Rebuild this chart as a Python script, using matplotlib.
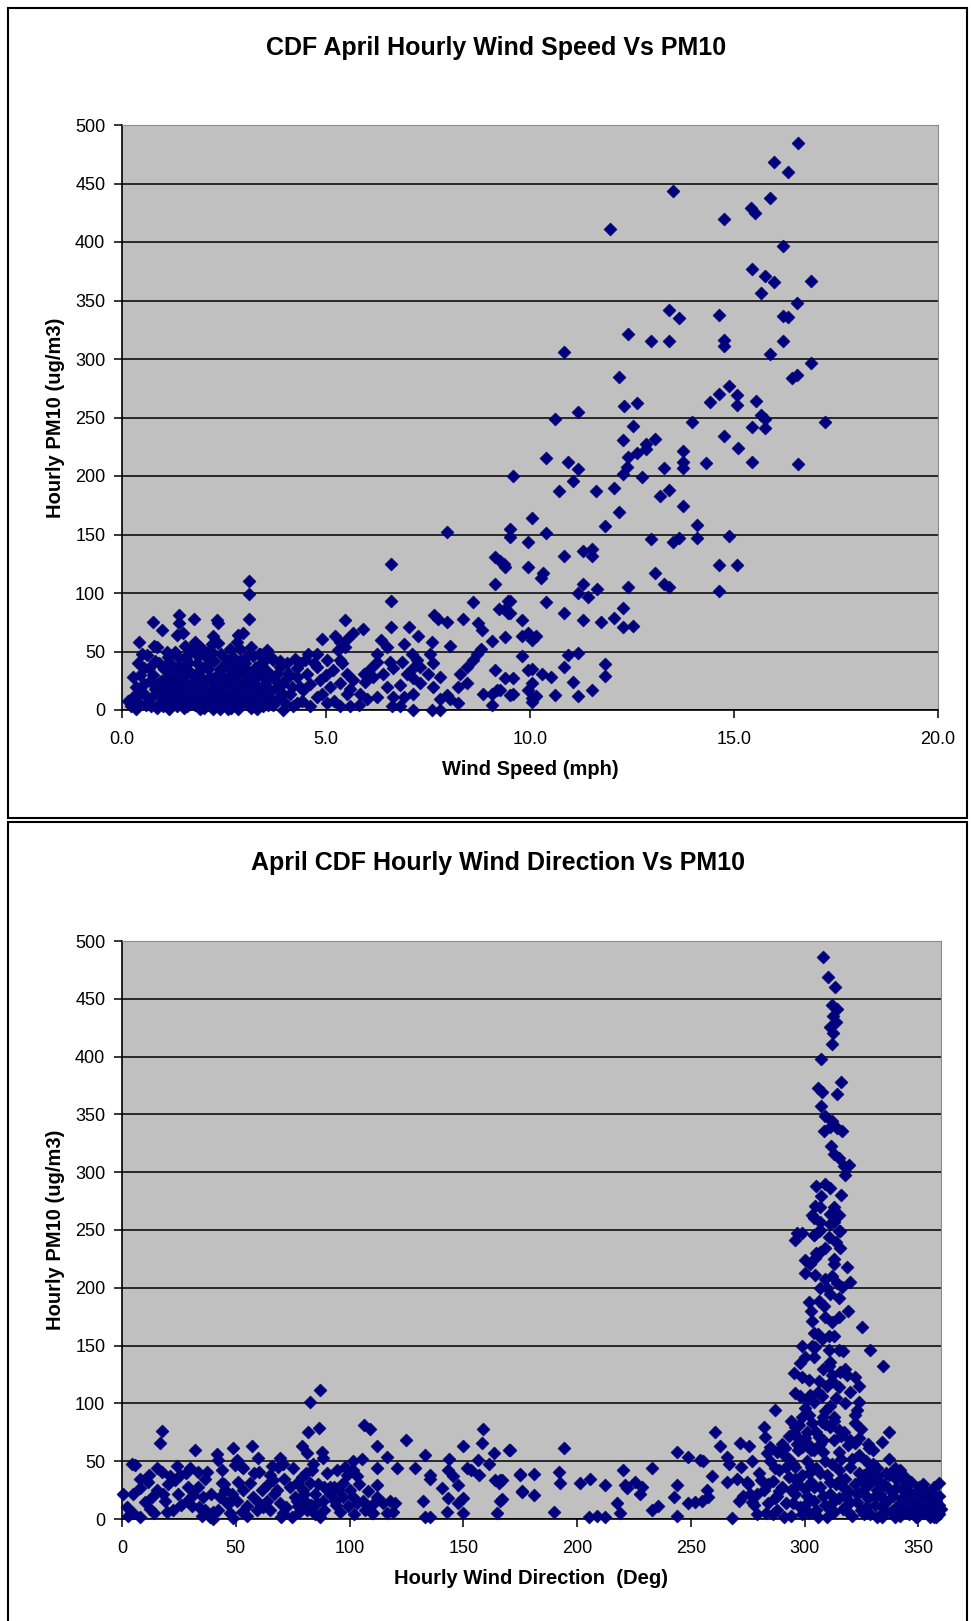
import matplotlib
matplotlib.use("Agg")
import matplotlib.pyplot as plt
from matplotlib.patches import Rectangle

# ---------------- data: chart 1 (wind speed vs PM10) ----------------
speed_high = [16.56, 15.98, 16.33, 13.51, 15.88, 15.41, 15.51, 14.75, 11.96, 16.21,
              15.43, 15.77, 15.99, 16.88, 15.65, 16.55, 13.41, 13.64, 14.63, 16.21,
              16.32, 12.41, 12.97, 13.41, 14.75, 14.75, 16.21, 10.83, 15.88, 16.88,
              12.18, 16.41, 16.54, 14.87, 14.64, 15.08, 15.08, 14.41, 15.54, 12.30,
              12.62, 11.17, 10.61, 15.65, 15.76, 12.52, 13.96, 15.43, 15.76, 17.23,
              12.29, 13.06, 12.84, 12.84, 12.62, 14.75, 15.09, 13.74, 13.74, 13.74,
              14.31, 15.43, 16.56, 10.38, 10.94, 11.17, 11.06, 12.39, 12.37, 12.29,
              13.29, 12.74, 9.59, 10.71, 11.62, 12.07, 13.19, 13.41, 12.18, 13.74,
              10.06, 11.84, 14.10, 9.51, 9.51, 10.38, 9.96, 12.97, 13.50, 13.64,
              14.10, 14.87, 11.29, 11.51, 11.51, 10.84, 9.36, 9.96, 10.33, 10.26,
              14.64, 15.08, 13.06, 13.28, 13.41, 12.41, 14.64, 11.29, 11.17, 11.41,
              11.63, 9.51, 9.39, 9.51, 10.38, 9.81, 10.84, 11.29, 11.73, 12.07,
              12.29, 12.29, 12.52, 9.81, 9.96, 10.04, 10.15, 9.39, 9.81, 10.94,
              11.17, 11.84, 11.84, 10.84, 10.06, 10.29, 10.51, 11.06, 11.51, 11.17,
              10.61, 10.04, 9.96, 10.06, 10.15, 10.04, 9.59, 9.39, 9.59, 9.51, 9.26]
pm10_high = [485, 468, 460, 444, 438, 429, 425, 420, 411, 397,
             377, 371, 366, 367, 356, 348, 342, 335, 338, 337,
             336, 321, 315, 315, 316, 311, 315, 306, 304, 297,
             285, 284, 286, 277, 270, 269, 261, 263, 264, 260,
             262, 255, 249, 252, 249, 243, 246, 242, 241, 246,
             231, 232, 227, 223, 220, 234, 224, 221, 212, 207,
             211, 212, 210, 215, 212, 206, 196, 216, 208, 202,
             207, 199, 200, 187, 187, 190, 183, 188, 169, 174,
             164, 157, 158, 155, 148, 151, 144, 146, 144, 147,
             147, 149, 136, 138, 132, 132, 125, 122, 117, 113,
             124, 124, 117, 108, 105, 105, 102, 108, 100, 97,
             103, 93, 86, 83, 92, 77, 83, 77, 75, 79,
             87, 71, 72, 63, 66, 60, 63, 62, 46, 47,
             49, 39, 29, 37, 35, 31, 28, 24, 17, 12,
             13, 23, 17, 10, 12, 7, 27, 27, 14, 13, 17]

speed_mid = [7.96, 6.59, 3.12, 3.12, 3.12, 6.59, 9.14, 9.26, 9.39, 9.14,
             8.60, 9.47, 9.24, 9.47, 8.35, 8.72, 8.82, 7.65, 7.96, 7.75,
             9.06, 8.04, 8.80, 8.61, 8.69, 7.04, 7.26, 6.92, 6.59, 6.36,
             6.49, 6.24, 7.59, 7.55, 7.63, 7.10, 7.22, 7.14, 7.14, 5.47,
             5.91, 5.67, 5.51, 4.89, 5.22, 5.34, 5.30, 5.47, 4.77, 0.77,
             0.97, 1.40, 1.40, 1.77, 2.32, 2.36, 0.42, 0.87, 1.34, 1.50,
             1.79, 1.91, 2.24, 2.36, 2.20, 2.85, 2.97, 2.81,
             8.86, 9.06, 9.18, 9.06, 9.14, 9.96, 8.04, 8.24, 7.96, 8.24,
             8.45, 8.28, 8.45, 7.59, 7.79, 7.79, 7.63, 7.79, 7.51,
             6.61, 6.81, 7.14, 6.65, 6.90, 7.14, 6.49, 6.81, 7.30, 6.40,
             6.65, 6.98, 6.24, 6.57, 6.86, 7.30, 6.16, 6.24,
             5.34, 5.18, 5.51, 5.67, 5.34, 5.10, 5.51, 5.83, 5.92, 6.00,
             5.34, 5.59, 5.02, 4.77, 4.85, 4.77, 5.02, 4.57, 4.53, 4.44,
             4.61, 4.28, 3.71, 3.87, 4.04, 4.24, 4.36, 3.79, 4.04, 4.28,
             4.49, 3.79, 3.95, 4.16, 4.36, 3.71, 3.95, 4.20, 3.55, 3.39]
pm10_mid = [152, 125, 110, 99, 78, 93, 131, 127, 122, 108,
            92, 93, 86, 83, 78, 74, 68, 81, 75, 78,
            59, 55, 52, 43, 48, 71, 63, 56, 71, 60,
            54, 48, 58, 48, 40, 48, 43, 36, 27, 77,
            69, 66, 61, 61, 63, 58, 51, 54, 48, 75,
            68, 81, 74, 78, 77, 74, 58, 54, 64, 66,
            58, 54, 63, 57, 50, 64, 66, 58,
            14, 14, 17, 4, 34, 34, 9, 6, 13, 20,
            23, 31, 37, 0, 0, 9, 20, 28, 31,
            3, 3, 0, 11, 11, 14, 20, 21, 23, 31,
            36, 31, 41, 41, 41, 37, 28, 11,
            43, 34, 31, 26, 23, 20, 14, 14, 31, 9,
            3, 3, 6, 11, 26, 37, 43, 48, 31, 17,
            3, 6, 43, 37, 40, 44, 40, 31, 27, 28,
            43, 20, 14, 20, 20, 6, 0, 3, 51, 48]

speed_low = [0.15, 0.22, 0.30, 0.35, 0.42, 0.50, 0.28, 0.48, 0.62, 0.55,
             0.60, 0.70, 0.75, 0.80, 0.85, 0.90, 0.95, 1.00, 1.02, 1.08,
             1.12, 1.15, 1.20, 1.25, 1.28, 1.30, 1.35, 1.40, 1.45, 1.50,
             1.52, 1.58, 1.60, 1.65, 1.70, 1.72, 1.78, 1.80, 1.85, 1.88,
             1.92, 1.98, 2.00, 2.05, 2.10, 2.12, 2.18, 2.22, 2.25, 2.30,
             2.35, 2.38, 2.42, 2.48, 2.50, 2.55, 2.60, 2.65, 2.68, 2.72,
             2.75, 2.80, 2.85, 2.90, 2.92, 2.98, 3.02, 3.05, 3.10, 3.15,
             3.18, 3.22, 3.28, 3.32, 3.38, 3.40, 3.45, 3.50, 3.55, 3.60,
             3.65, 0.65, 0.78, 0.95, 1.05, 1.18, 1.32, 1.42, 1.55, 1.68,
             1.75, 1.90, 2.02, 2.15, 2.28, 2.40, 2.52, 2.62, 2.78, 2.88,
             3.00, 3.12, 3.25, 3.35, 3.48, 1.10, 1.38, 1.62, 1.95, 2.20,
             2.45, 2.70, 2.95, 3.20, 0.88, 1.22, 1.48, 1.82, 2.08, 2.32,
             2.58, 2.82, 3.08, 3.42, 1.00, 1.60, 2.00, 2.40, 2.80, 3.30,
             3.70, 3.60]
pm10_low = [8, 3, 12, 1, 6, 15, 28, 48, 47, 22,
            4, 10, 30, 18, 2, 40, 25, 8, 35, 14,
            45, 1, 22, 30, 5, 50, 12, 38, 18, 27,
            2, 44, 9, 33, 15, 52, 24, 4, 40, 11,
            29, 19, 47, 6, 35, 14, 24, 1, 42, 9,
            31, 18, 48, 4, 26, 13, 38, 21, 2, 45,
            10, 30, 17, 52, 5, 24, 40, 12, 33, 2,
            20, 46, 8, 28, 15, 38, 3, 22, 33, 10,
            45, 36, 55, 12, 20, 40, 25, 6, 36, 22,
            7, 34, 25, 44, 15, 35, 8, 28, 38, 10,
            18, 26, 36, 48, 12, 28, 45, 48, 52, 56,
            20, 16, 34, 10, 22, 12, 32, 17, 9, 27,
            43, 24, 5, 30, 3, 3, 2, 1, 3, 1,
            4, 28]

speed_fill = [0.35, 0.45, 0.58, 0.68, 0.72, 0.82, 0.92, 0.98, 1.06, 1.14,
              1.22, 1.26, 1.34, 1.42, 1.46, 1.56, 1.62, 1.66, 1.74, 1.84,
              1.86, 1.94, 2.04, 2.06, 2.14, 2.16, 2.26, 2.34, 2.44, 2.46,
              2.54, 2.56, 2.64, 2.66, 2.74, 2.84, 2.86, 2.94, 3.04, 3.06,
              3.14, 3.24, 3.26, 3.34, 3.36, 3.44, 3.52, 3.58, 3.66, 3.74,
              3.82, 3.88, 3.92, 4.00, 4.08, 4.12, 4.30, 4.40, 4.60, 4.70,
              4.90, 5.00, 5.20, 5.40, 5.60, 5.80, 5.95, 6.10, 0.40, 1.10,
              1.55, 2.10, 2.65, 3.15, 0.55, 2.90, 1.30, 1.90, 2.60, 3.20]
pm10_fill = [20, 30, 12, 25, 3, 42, 6, 17, 38, 9,
             33, 20, 3, 28, 12, 22, 40, 5, 30, 24,
             46, 8, 16, 38, 4, 28, 20, 6, 12, 30,
             40, 18, 6, 34, 24, 1, 36, 14, 28, 46,
             16, 4, 22, 38, 8, 20, 44, 4, 16, 26,
             10, 42, 22, 6, 32, 14, 36, 8, 22, 40,
             14, 30, 8, 40, 18, 4, 24, 36, 40, 50,
             55, 50, 52, 54, 36, 42, 16, 1, 1, 32]

speed_x = speed_high + speed_mid + speed_low + speed_fill
pm10_a = pm10_high + pm10_mid + pm10_low + pm10_fill

# ---------------- data: chart 2 (wind direction vs PM10) ----------------
dir_peak = [308.0, 310.2, 313.2, 312.1, 314.3, 312.5, 314.0, 311.4, 312.5, 312.1,
            307.2, 316.2, 314.3, 305.8, 307.7, 307.2, 309.1, 312.1, 314.3, 316.4,
            308.4, 311.4, 311.8, 312.8, 315.0, 317.2, 319.4, 317.9, 305.2, 311.4,
            307.2, 304.7, 312.8, 311.4, 315.0, 303.3, 306.9, 312.8, 315.7, 296.7,
            306.2, 304.0, 296.0, 298.9, 304.0, 306.9, 310.6, 315.0, 300.3, 302.6,
            304.7, 306.9, 309.1, 315.7, 312.8, 318.7, 300.3, 304.7, 309.1, 312.1,
            314.3, 316.5, 306.9, 311.4, 301.8, 306.2, 308.4, 315.0, 309.1, 325.2,
            303.3, 304.0, 307.7, 310.6, 312.8, 304.7, 298.9, 303.3, 328.9, 334.5,
            304.0, 310.6, 315.0, 311.4, 310.6, 298.1, 295.2, 298.9, 306.2, 315.7,
            318.7, 322.3, 312.1, 315.0, 296.0, 298.1, 302.6, 307.7, 301.1, 304.0,
            287.2, 323.8, 323.0, 309.1, 312.8, 298.9, 303.3, 307.7, 311.4, 315.0,
            322.3, 297.4, 282.0, 282.8, 260.8, 337.0, 334.1, 295.2, 301.1, 306.2,
            312.8, 317.2, 320.1, 323.8, 296.7, 302.6, 306.9, 271.8, 275.4, 263.0,
            291.6, 328.2, 288.0, 283.5]
pm10_peak = [486, 469, 460, 445, 441, 435, 430, 426, 420, 411,
             398, 378, 368, 373, 369, 357, 349, 344, 338, 336,
             336, 339, 323, 316, 312, 305, 306, 298, 288, 286,
             279, 271, 270, 264, 263, 263, 257, 257, 249, 247,
             249, 246, 241, 247, 246, 250, 244, 249, 224, 221,
             226, 231, 234, 234, 221, 218, 213, 211, 208, 210,
             204, 201, 200, 195, 188, 189, 184, 191, 175, 166,
             171, 161, 156, 158, 158, 149, 150, 150, 146, 132,
             140, 146, 146, 136, 132, 135, 126, 123, 119, 127,
             125, 123, 119, 114, 109, 106, 107, 106, 103, 101,
             94, 101, 94, 93, 88, 88, 83, 84, 80, 77,
             83, 81, 80, 71, 75, 75, 67, 74, 75, 71,
             68, 75, 68, 70, 65, 63, 65, 66, 63, 63,
             61, 61, 58, 57]

dir_low = [87.1, 82.7, 86.8, 81.9, 17.5, 16.7, 158.9, 158.2, 106.4, 109.1,
           124.9, 150.1, 169.9, 32.1, 57.0, 49.0, 112.0, 79.3, 81.2, 41.6,
           42.4, 59.9, 69.5, 70.9, 68.7, 87.8, 88.5, 105.4, 101.7, 116.4,
           133.2, 143.9, 156.7, 163.3, 161.1, 4.3, 5.7, 15.3, 17.5, 21.1,
           25.5, 23.3, 33.6, 37.2, 36.5, 49.7, 52.6, 50.4, 60.4, 65.1,
           66.5, 120.8, 128.8, 112.0, 143.5, 151.6, 153.5, 145.7, 157.1, 94.4,
           98.8, 101.7, 103.2, 97.3, 91.5, 164.0, 167.0, 165.5, 175.0, 176.0,
           167.0, 164.8, 147.9, 150.1, 147.9, 150.1, 143.5, 142.8, 140.6, 132.5,
           133.2, 135.4, 135.4, 135.4, 112.0, 112.0, 114.9, 117.9, 119.3, 116.4,
           120.1, 110.5, 87.1,
           0.6, 2.8, 5.0, 7.9, 5.0, 7.9, 11.6, 13.0, 12.3, 15.3,
           18.9, 19.6, 22.6, 24.8, 28.4, 29.2, 31.4, 30.7, 33.6, 35.8,
           35.1, 36.5, 38.7, 40.1, 42.4, 43.1, 43.8, 45.3, 46.0, 47.5,
           48.9, 48.2, 50.4, 53.3, 54.8, 52.6, 56.3, 57.7, 59.2, 61.4,
           63.6, 65.1, 68.0, 69.5, 70.9, 73.9, 74.6, 76.1, 77.5, 76.8,
           79.7, 80.5, 81.2, 82.7, 83.4, 84.1, 84.9, 85.6, 88.5, 91.5,
           93.7, 95.1, 97.3, 99.5, 101.7, 103.2, 106.1, 106.9, 109.8,
           170.6, 194.1, 232.9, 220.4, 175.0, 180.9, 191.9, 192.6, 201.4, 205.8,
           212.4, 221.2, 221.9, 225.6, 227.8, 228.5, 166.2, 166.2, 175.8, 180.9,
           189.7, 205.1, 208.7, 212.4, 217.5, 219.0, 232.9, 235.8, 243.9, 242.5,
           243.9, 249.0, 252.0, 254.9, 257.8, 257.1, 259.3, 254.2, 243.9, 249.0,
           255.6, 265.9, 266.6, 265.9, 268.1, 270.3, 271.0, 274.7, 276.2, 276.9,
           279.1]
pm10_low_b = [112, 101, 79, 75, 76, 66, 78, 66, 81, 78,
              68, 63, 60, 60, 63, 61, 63, 63, 57, 56,
              51, 53, 53, 48, 45, 58, 53, 52, 50, 54,
              55, 52, 51, 57, 48, 48, 47, 44, 41, 37,
              38, 34, 41, 41, 35, 47, 45, 51, 41, 38,
              34, 44, 44, 44, 42, 44, 42, 37, 38, 42,
              38, 42, 37, 31, 28, 34, 34, 31, 38, 23,
              17, 5, 29, 18, 14, 5, 18, 6, 27, 16,
              2, 2, 35, 38, 29, 19, 14, 16, 6, 5,
              14, 5, 2,
              22, 3, 5, 2, 22, 27, 32, 19, 9, 25,
              16, 6, 8, 22, 16, 28, 21, 11, 28, 19,
              3, 8, 2, 0, 8, 19, 31, 25, 14, 5,
              1, 22, 16, 25, 11, 6, 31, 19, 8, 25,
              16, 8, 25, 14, 5, 28, 2, 19, 11, 31,
              25, 16, 8, 31, 42, 48, 22, 14, 16, 22,
              16, 25, 19, 11, 19, 14, 16, 8, 5,
              60, 61, 44, 42, 39, 39, 41, 31, 31, 35,
              29, 29, 27, 32, 22, 28, 34, 16, 24, 21,
              6, 2, 3, 2, 14, 5, 8, 11, 29, 19,
              3, 14, 15, 16, 19, 25, 37, 51, 58, 54,
              50, 54, 48, 32, 1, 35, 16, 32, 22, 15,
              22]

dir_dense = [272, 275, 278, 280, 282, 283, 285, 286, 287, 288,
             289, 290, 291, 292, 293, 294, 295, 296, 297, 298,
             299, 300, 301, 302, 303, 304, 305, 306, 307, 308,
             309, 310, 311, 312, 313, 314, 315, 316, 317, 318,
             319, 320, 321, 322, 323, 324, 325, 326, 327, 328,
             329, 330, 331, 332, 333, 334, 335, 336, 337, 338,
             339, 340, 341, 342, 343, 344, 345, 346, 347, 348,
             349, 350, 351, 352, 353, 354, 355, 356, 357, 358,
             359, 360, 284, 288, 292, 296, 300, 304, 308, 312,
             316, 320, 324, 328, 332, 336, 340, 344, 348, 352,
             356, 359, 286, 294, 302, 310, 318, 326, 334, 342,
             350, 358, 339.9, 342.1, 344.3, 350.2, 359.0, 356.8, 353.1, 359.7,
             356.8, 331.9, 328.9, 327.4, 331.9, 339.9,
             290, 293, 296, 299, 302, 305, 308, 311, 313, 316,
             319, 322, 325, 328, 300, 306, 310, 314, 318, 297,
             303, 309, 320, 324, 330, 312, 294]
pm10_dense = [45, 30, 12, 40, 25, 5, 50, 33, 18, 8,
              42, 28, 55, 14, 36, 3, 48, 22, 60, 10,
              38, 26, 50, 5, 32, 16, 44, 2, 28, 58,
              12, 38, 22, 48, 6, 30, 18, 52, 9, 35,
              24, 45, 3, 30, 15, 40, 8, 26, 50, 18,
              4, 34, 12, 44, 22, 2, 30, 15, 38, 6,
              20, 27, 10, 3, 18, 8, 25, 4, 14, 9,
              2, 12, 20, 5, 8, 15, 2, 10, 6, 16,
              4, 9, 30, 20, 45, 35, 12, 60, 20, 8,
              35, 15, 55, 35, 25, 40, 35, 18, 22, 30,
              22, 12, 4, 25, 40, 2, 10, 4, 10, 14,
              3, 2, 44, 42, 31, 28, 31, 19, 18, 9,
              2, 37, 31, 19, 2, 2,
              65, 72, 80, 62, 90, 75, 68, 98, 85, 72,
              64, 90, 78, 65, 96, 110, 115, 105, 100, 70,
              60, 82, 110, 115, 60, 125, 85]

dir_fill = [2, 8, 10, 14, 20, 26, 28, 34, 39, 44,
            47, 51, 55, 58, 62, 66, 67, 71, 72, 75,
            78, 79, 80, 83, 86, 89, 90, 93, 96, 98,
            100, 104, 108, 110, 40, 45, 53, 60, 64, 70,
            77, 81, 85, 89, 94, 102, 30, 18, 24, 12,
            273, 277, 279, 281, 284, 287, 289, 291, 293, 295,
            297, 299, 301, 303, 305, 307, 309, 311, 313, 315,
            317, 319, 321, 323, 325, 327, 329, 331, 333, 335,
            337, 339, 341, 343, 345, 347, 349, 351, 353, 355,
            357, 359, 285, 300, 308, 315, 322, 330, 337, 344,
            296, 304, 318, 326, 334, 352, 358,
            300, 303, 305, 307, 309, 311, 313, 315, 317, 319,
            302, 306, 310, 314, 316, 308, 312, 318, 304, 320]
pm10_fill_b = [10, 35, 15, 5, 30, 12, 40, 10, 22, 42,
               14, 32, 3, 40, 10, 46, 22, 35, 10, 44,
               6, 36, 22, 12, 30, 8, 40, 28, 6, 45,
               25, 30, 24, 12, 6, 30, 44, 14, 30, 2,
               16, 40, 4, 28, 12, 4, 44, 22, 46, 38,
               20, 50, 4, 34, 14, 44, 24, 2, 52, 14,
               30, 4, 20, 45, 8, 40, 50, 32, 16, 42,
               28, 6, 52, 22, 34, 10, 42, 20, 32, 6,
               26, 8, 40, 26, 12, 32, 18, 8, 24, 14,
               28, 20, 62, 70, 88, 58, 66, 48, 52, 36,
               45, 28, 20, 38, 18, 16, 8,
               140, 180, 230, 270, 290, 255, 225, 175, 145, 180,
               120, 160, 200, 240, 280, 130, 170, 130, 260, 205]

dir_x = dir_peak + dir_low + dir_dense + dir_fill
pm10_b = pm10_peak + pm10_low_b + pm10_dense + pm10_fill_b

# ---------------- figure ----------------
W, H = 971, 1621
fig = plt.figure(figsize=(W / 100, H / 100), dpi=100)
plt.rcParams['font.family'] = ['Liberation Sans', 'DejaVu Sans']

def frac(l, t, r, b):
    return [l / W, 1 - b / H, (r - l) / W, (b - t) / H]

# outer chart boxes
for (l, t, r, b) in [(8, 8, 967, 818), (8, 822, 967, 1630)]:
    fig.patches.append(Rectangle((l / W, 1 - b / H), (r - l) / W, (b - t) / H,
                                 transform=fig.transFigure, fill=False,
                                 edgecolor='black', linewidth=1.5))

MARK = dict(marker='D', s=44, c='#000080', edgecolors='#00006a', linewidths=0.4,
            zorder=5, clip_on=False)

def style(ax, xlim, xticks, xlabels):
    ax.set_facecolor('#c0c0c0')
    ax.set_xlim(*xlim)
    ax.set_ylim(0, 500)
    ax.set_yticks(range(0, 501, 50))
    ax.set_xticks(xticks)
    ax.set_xticklabels(xlabels)
    ax.yaxis.grid(True, color='black', linewidth=1.1)
    ax.set_axisbelow(True)
    for s in ['top', 'right']:
        ax.spines[s].set_color('#8a8a8a')
        ax.spines[s].set_linewidth(0.8)
    for s in ['left', 'bottom']:
        ax.spines[s].set_color('black')
        ax.spines[s].set_linewidth(1.2)
    ax.tick_params(axis='both', direction='out', length=6, width=1.1,
                   labelsize=13, colors='black', pad=6)
    ax.tick_params(axis='x', pad=9)
    ax.set_ylabel('Hourly PM10 (ug/m3)', fontsize=14.5, fontweight='bold', labelpad=7)

# chart 1
ax1 = fig.add_axes(frac(122, 125, 938, 710))
style(ax1, (0, 20), [0, 5, 10, 15, 20], ['0.0', '5.0', '10.0', '15.0', '20.0'])
ax1.scatter(speed_x, pm10_a, **MARK)
ax1.set_xlabel('Wind Speed (mph)', fontsize=14.5, fontweight='bold', labelpad=9)
fig.text(496 / W, 1 - 48 / H, 'CDF April Hourly Wind Speed Vs PM10', ha='center',
         va='center', fontsize=18, fontweight='bold')

# chart 2
ax2 = fig.add_axes(frac(122, 941, 941, 1519))
style(ax2, (0, 360), [0, 50, 100, 150, 200, 250, 300, 350],
      ['0', '50', '100', '150', '200', '250', '300', '350'])
ax2.scatter(dir_x, pm10_b, **MARK)
ax2.set_xlabel('Hourly Wind Direction  (Deg)', fontsize=14.5, fontweight='bold', labelpad=9)
fig.text(498 / W, 1 - 863 / H, 'April CDF Hourly Wind Direction Vs PM10', ha='center',
         va='center', fontsize=18, fontweight='bold')

fig.savefig('out.png', dpi=100)
